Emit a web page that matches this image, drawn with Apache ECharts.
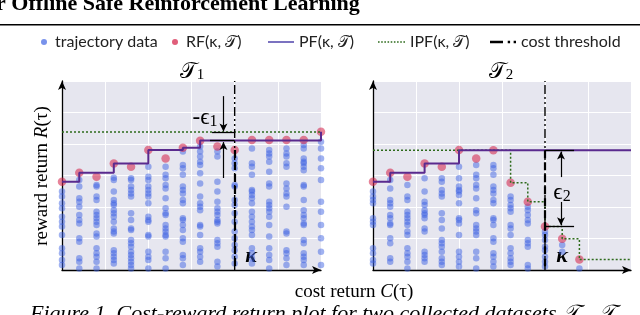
<!DOCTYPE html>
<html><head><meta charset="utf-8">
<script src="https://cdn.jsdelivr.net/npm/echarts/dist/echarts.min.js"></script>
<style>html,body{margin:0;padding:0;background:#fff}#c{width:640px;height:315px}</style>
</head><body><div id="c"></div>
<script>
// ---------- data ----------
const costCols = [0,1,2,3,4,5,6,7,8,9,10,11,12,13,14,15];
const costThreshold = 10;

// T1: trajectory rewards per cost column
const t1Blue = [
 [2.49,2.33,2.12,1.96,1.69,1.53,1.38,1.11,0.69,0.53,0.32,0.16],
 [2.86,2.65,2.28,2.17,2.01,1.75,1.59,1.48,1.01,0.90,0.37,0.26,0.05],
 [2.70,2.65,2.33,2.22,1.85,1.75,1.64,1.53,1.43,1.16,1.06,0.69,0.53,0.42,0.26,0.05],
 [2.93,2.86,2.49,2.22,2.12,2.06,1.90,1.80,1.69,1.53,1.32,1.22,1.16,0.63,0.53,0.42,0.32,0.21],
 [2.91,2.86,2.65,2.54,2.43,2.33,1.80,1.59,1.32,1.27,0.95,0.85,0.74,0.58,0.48,0.37,0.26,0.16,0.05],
 [3.28,2.96,2.86,2.65,2.54,2.43,2.33,2.12,1.69,1.59,1.53,1.11,1.06,0.58,0.42,0.32,0.05],
 [3.28,3.02,2.91,2.70,2.59,2.28,1.96,1.80,1.75,1.43,1.32,1.22,1.11,1.06,0.58,0.37,0.05],
 [3.76,3.33,3.23,3.02,2.65,2.54,2.43,2.22,2.12,1.64,1.59,1.43,1.27,1.01,0.90,0.48,0.37,0.16],
 [3.92,3.76,3.60,3.44,3.33,3.07,2.75,2.33,2.12,2.01,1.90,1.43,1.38,1.11,0.69,0.58,0.42,0.26],
 [3.76,3.60,2.80,2.49,2.17,1.96,1.85,1.75,1.59,1.53,1.48,0.95,0.85,0.74,0.26,0.11],
 [3.54,3.39,3.23,2.70,2.65,2.22,2.06,1.80,1.53,1.22,1.01,0.79,0.63,0.42,0.21],
 [3.86,3.39,3.28,3.02,2.54,2.49,2.38,2.28,2.12,1.85,1.69,1.53,1.38,1.27,1.11,0.69,0.53,0.37,0.21],
 [3.81,3.70,3.60,3.44,3.12,2.75,2.65,2.17,2.06,1.96,1.85,1.69,1.43,1.06,0.69,0.48,0.32,0.05],
 [3.86,3.70,3.60,3.39,3.28,2.75,2.59,2.43,2.33,2.01,1.22,1.16,0.63,0.53,0.37,0.16],
 [3.97,3.86,3.54,3.44,3.39,3.28,3.17,2.70,2.65,2.22,1.90,1.75,1.64,1.48,1.43,0.95,0.85,0.53,0.42,0.32,0.16],
 [4.07,3.86,3.54,3.23,2.86,2.17,1.85,1.43,1.01,0.58,0.16]
];
const t1RF  = [2.80,3.09,2.96,3.38,3.28,3.81,3.54,3.88,4.10,3.92,3.81,4.13,4.13,4.13,4.13,4.39];
const t1PF  = [2.80,3.09,3.09,3.38,3.38,3.81,3.81,3.88,4.11,4.11,4.11,4.11,4.11,4.11,4.11,4.39];
const t1IPF = [4.38,4.38,4.38,4.38,4.38,4.38,4.38,4.38,4.38,4.38,4.38,4.38,4.38,4.38,4.38,4.38];

// T2
const t2Blue = [
 [2.49,2.33,2.22,2.12,1.64,1.53,1.43,0.69,0.53,0.32,0.21],
 [2.86,2.59,2.22,2.12,2.01,1.75,1.64,1.48,1.43,1.01,0.85,0.37,0.26],
 [2.70,2.33,2.22,1.85,1.75,1.64,1.53,1.43,1.22,1.11,0.69,0.53,0.42,0.26,0.05],
 [2.91,2.49,2.17,2.06,1.90,1.80,1.75,1.64,1.32,1.22,0.58,0.48,0.37,0.26],
 [2.91,2.80,2.54,2.43,2.33,1.80,1.59,1.32,0.95,0.85,0.74,0.58,0.37,0.26,0.16],
 [3.28,2.91,2.65,2.54,2.49,2.38,2.12,1.64,1.59,1.48,1.11,0.58,0.42,0.26,0.11],
 [3.33,3.02,2.91,2.70,2.59,2.28,1.90,1.80,1.43,1.32,1.22,1.11,0.58,0.37,0.05],
 [3.33,3.23,3.02,2.65,2.54,2.43,2.22,2.12,1.64,1.59,1.43,1.01,0.90,0.53,0.42,0.26,0.11],
 [2.33,2.22,2.06,1.96,1.85,1.43,1.32,1.11,0.69,0.53,0.37,0.26,0.16],
 [2.01,1.90,1.75,1.59,1.48,0.95,0.85,0.74,0.16,0.05],
 [1.22,1.11,0.95,0.74,0.63,0.42,0.26,0.11],
 [0.79,0.58],
 [0.05]
];
const t2RF  = [2.80,3.09,2.96,3.38,3.28,3.81,3.54,3.80,2.77,2.17,1.38,0.99,0.33];
const t2PF  = [2.80,3.09,3.09,3.38,3.38,3.80,3.80,3.80,3.80,3.80,3.80,3.80,3.80,3.80,3.80,3.80];
const t2IPF = [3.80,3.80,3.80,3.80,3.80,3.80,3.80,3.80,2.77,2.17,1.38,0.99,0.33,0.33,0.33,0.33];

const legendNames = ['trajectory data','RF(κ, 𝒯)','PF(κ, 𝒯)','IPF(κ, 𝒯)','cost threshold'];

// ---------- build ----------
function blueData(cols){ const out=[]; cols.forEach((arr,i)=>arr.forEach(v=>out.push([costCols[i],v]))); return out; }
function pairs(vals){ return vals.map((v,i)=>[costCols[i],v]); }

const BLUE='rgba(62,100,226,0.62)', RED='rgba(214,40,78,0.72)', PURPLE='#5a2a8e', GREEN='#2e6b1c';
const TH_DASH=[9,3,2,3,2,3];

function panelSeries(gi, blue, rf, pf, ipf, ann){
  return [
    {name:legendNames[0], type:'scatter', xAxisIndex:gi, yAxisIndex:gi, data:blueData(blue), symbolSize:6.5,
     itemStyle:{color:BLUE}, silent:true},
    {name:legendNames[3], type:'line', xAxisIndex:gi, yAxisIndex:gi, data:pairs(ipf), step:'end', symbol:'none',
     itemStyle:{color:GREEN}, lineStyle:{color:GREEN, width:1.5, type:[2,2]}},
    {name:legendNames[2], type:'line', xAxisIndex:gi, yAxisIndex:gi, data:pairs(pf), step:'end', symbol:'none',
     itemStyle:{color:PURPLE}, lineStyle:{color:PURPLE, width:2}},
    {name:legendNames[1], type:'scatter', xAxisIndex:gi, yAxisIndex:gi, data:pairs(rf), symbolSize:8.5,
     itemStyle:{color:RED}},
    {name:legendNames[4], type:'line', xAxisIndex:gi, yAxisIndex:gi, data:[[costThreshold,0],[costThreshold,6]], symbol:'none',
     itemStyle:{color:'#000'}, lineStyle:{color:'#000', width:1.4, type:TH_DASH}},
    {type:'line', xAxisIndex:gi, yAxisIndex:gi, data:[], silent:true,
     markLine:{silent:true, animation:false, label:{show:false}, data:ann}}
  ];
}
function arrow(x,y1,y2){ return [{coord:[x,y1], symbol:'none'},{coord:[x,y2], symbol:'arrow', symbolSize:[6,8], lineStyle:{color:'#000',width:1.2,type:'solid'}}]; }
function hseg(x1,x2,y){ return [{coord:[x1,y], symbol:'none'},{coord:[x2,y], symbol:'none', lineStyle:{color:'#000',width:1.3,type:'solid'}}]; }
function kseg(x,y1,y2){ return [{coord:[x,y1], symbol:'none'},{coord:[x,y2], symbol:'none', lineStyle:{color:'#000',width:2.2,type:[8,4]}}]; }

const ann1 = [arrow(9.35,5.52,4.40), arrow(9.35,2.92,4.06), hseg(8.69,10,4.38), hseg(8.57,10,4.11), kseg(10,3.81,0)];
const ann2 = [arrow(10.93,2.95,3.76), arrow(10.93,2.16,1.42), hseg(10,11.69,3.80), hseg(10,11.69,1.38), kseg(10,3.80,0)];

function xAx(gi){ return {gridIndex:gi, type:'value', min:0, max:15, interval:2.5,
  axisLine:{show:true, onZero:false, symbol:['none','arrow'], symbolSize:[6,9], lineStyle:{color:'#000', width:1.3}},
  axisTick:{show:false}, axisLabel:{show:false}, splitLine:{show:true, lineStyle:{color:'#fff', width:1}}}; }
function yAx(gi){ return {gridIndex:gi, type:'value', min:0, max:6, interval:1,
  axisLine:{show:true, onZero:false, symbol:['none','arrow'], symbolSize:[6,9], lineStyle:{color:'#000', width:1.3}},
  axisTick:{show:false}, axisLabel:{show:false}, splitLine:{show:true, lineStyle:{color:'#fff', width:1}}}; }

// legend icon paths (line samples)
function rects(segs, h){ return 'path://' + segs.map(s=>'M'+s[0]+',0H'+(s[0]+s[1])+'V'+h+'H'+s[0]+'Z').join(' '); }
const solidIcon = rects([[0,26]], 1.6);
const dotSegs=[]; for(let x=0;x<26;x+=3) dotSegs.push([x,1.5]);
const dottedIcon = rects(dotSegs, 1.5);
const dashDotIcon = rects([[0,11],[15,2],[20,2]], 2);

const LFONT = 'Lato, "Liberation Sans", sans-serif';
function leg(name, left, w, h, icon, color){ const d={name:name, icon:icon, itemStyle:{color:color, borderWidth:0, opacity:1}};
  return {data:[d], left:left, top:34, padding:0, itemWidth:w, itemHeight:h,
  textStyle:{fontFamily:LFONT, fontSize:16, color:'#222', lineHeight:16}, selectedMode:false}; }

const SERIF = '"Liberation Serif", "DejaVu Serif", serif';
function subText(x,y,main,sub,size,style){
  return {type:'text', x:x, y:y, style:{text:'{a|'+main+'}{b|'+sub+'}', align:'center', verticalAlign:'middle',
    rich:{a:{fontFamily:SERIF, fontSize:size, fontStyle:style||'normal', lineHeight:size+4, verticalAlign:'bottom', fill:'#000'},
          b:{fontFamily:SERIF, fontSize:Math.round(size*0.7), lineHeight:Math.round(size*0.7), verticalAlign:'bottom', fill:'#000'}}}};
}

const option = {
  animation:false,
  backgroundColor:'#fff',
  grid:[
    {left:62, top:81, width:259, height:189, show:true, backgroundColor:'#e6e6ef', borderWidth:0, containLabel:false, outerBoundsMode:'none'},
    {left:373, top:81, width:258, height:189, show:true, backgroundColor:'#e6e6ef', borderWidth:0, containLabel:false, outerBoundsMode:'none'}
  ],
  xAxis:[xAx(0), xAx(1)],
  yAxis:[yAx(0), yAx(1)],
  legend:[
    leg(legendNames[0], 41, 12, 6, 'circle', 'rgba(62,100,226,0.7)'),
    leg(legendNames[1], 172, 12, 6, 'circle', 'rgba(214,40,78,0.75)'),
    leg(legendNames[2], 268, 26, 10, solidIcon, '#5a4fb0'),
    leg(legendNames[3], 378, 27, 10, dottedIcon, GREEN),
    leg(legendNames[4], 490, 26, 10, dashDotIcon, '#000')
  ],
  series:[].concat(panelSeries(0,t1Blue,t1RF,t1PF,t1IPF,ann1), panelSeries(1,t2Blue,t2RF,t2PF,t2IPF,ann2)),
  graphic:[
    {type:'text', x:-4, y:4, style:{text:'r Offline Safe Reinforcement Learning', fontFamily:SERIF, fontWeight:'bold', fontSize:22, fill:'#000', align:'left', verticalAlign:'middle'}},
    {type:'rect', shape:{x:0, y:24, width:640, height:1.5}, style:{fill:'#000'}},
    {type:'text', x:30, y:314, style:{text:'Figure 1. Cost-reward return plot for two collected datasets 𝒯₁, 𝒯₂', fontFamily:SERIF, fontStyle:'italic', fontSize:22, fill:'#000', align:'left', verticalAlign:'middle'}},
    {type:'text', x:354, y:292, style:{text:'{n|cost return }{i|C}{n|(τ)}', align:'center', verticalAlign:'middle',
       rich:{n:{fontFamily:SERIF, fontSize:19, fill:'#000'}, i:{fontFamily:SERIF, fontSize:19, fontStyle:'italic', fill:'#000'}}}},
    {type:'text', x:42, y:176, rotation:Math.PI/2, style:{text:'{n|reward return }{i|R}{n|(τ)}', align:'center', verticalAlign:'middle',
       rich:{n:{fontFamily:SERIF, fontSize:19, fill:'#000'}, i:{fontFamily:SERIF, fontSize:19, fontStyle:'italic', fill:'#000'}}}},
    subText(192,70,'𝒯','1',22),
    subText(501,70,'𝒯','2',22),
    subText(205,116,'-ϵ','1',23),
    subText(562,191,'ϵ','2',23),
    {type:'text', x:251, y:256, style:{text:'κ', fontFamily:SERIF, fontStyle:'italic', fontWeight:'bold', fontSize:22, fill:'#000', align:'center', verticalAlign:'middle'}},
    {type:'text', x:562, y:256, style:{text:'κ', fontFamily:SERIF, fontStyle:'italic', fontWeight:'bold', fontSize:22, fill:'#000', align:'center', verticalAlign:'middle'}}
  ]
};
const chart = echarts.init(document.getElementById('c'));
chart.setOption(option);
</script>
</body></html>
